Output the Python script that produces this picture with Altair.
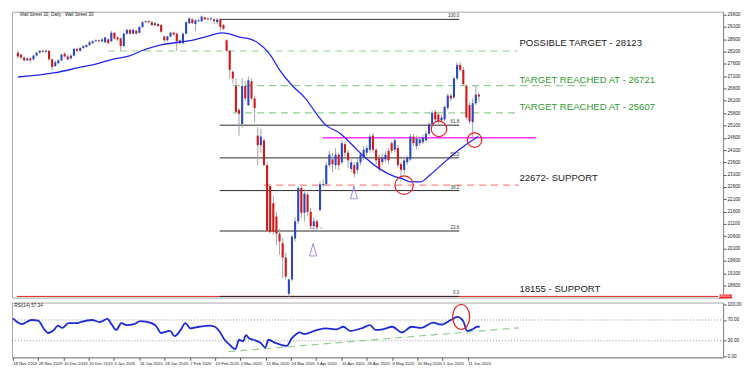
import altair as alt
import pandas as pd

FONT = "Liberation Sans"
BLUE = "#2a46c2"
RED = "#d01818"

# ---------------- candle data (bar index 0 = 18 Nov 2019) ----------------
OPEN = [28054, 27977, 27861, 27745, 27822, 27784, 27938, 28054, 28132, 28093,
        28132, 27784, 27513, 27629, 27745, 28016, 27900, 27822, 27938, 28209,
        28132, 28248, 28287, 28364, 28441, 28519, 28558, 28519, 28480, 28596,
        28519, 28867, 28674, 28635, 28325, 28828, 28983, 28828, 28945, 28867,
        29099, 29293, 29332, 29293, 29177, 29216, 29177, 28712, 28558, 28712,
        28867, 28828, 28441, 28441, 28828, 29254, 29409, 29216, 29332, 29332,
        29486, 29448, 29409, 29409, 29293, 29409, 29177, 28558, 28132, 27280,
        26700, 25732, 25152, 26700, 25926, 26893, 26197, 24688, 24301, 24494,
        23488, 22636, 21940, 21398, 20701, 20314, 19734, 18263, 18844, 20508,
        21205, 22559, 21553, 22288, 21592, 21011, 21205, 21669, 22675, 22714,
        23488, 23720, 23488, 23914, 23604, 24339, 23991, 23333, 23488, 23294,
        23604, 23797, 23991, 24107, 24688, 24107, 23797, 23604, 23720, 24068,
        24378, 24107, 24184, 23527, 23294, 23604, 23720, 24649, 24262, 24378,
        24417, 24494, 24765, 25152, 25655, 25539, 25307, 25345, 25810, 26313,
        26236, 27010, 27551, 27358, 26700, 25926, 25229, 26003, 26352]
HIGH = [28132, 28016, 27900, 27861, 27861, 27977, 28093, 28171, 28171, 28171,
        28171, 27822, 27745, 27784, 28016, 28054, 27977, 27977, 28248, 28248,
        28287, 28364, 28403, 28519, 28558, 28596, 28596, 28635, 28712, 28635,
        28945, 28906, 28712, 28674, 28867, 29022, 29022, 29022, 28983, 29138,
        29332, 29370, 29370, 29332, 29293, 29254, 29216, 28751, 28751, 28906,
        28906, 28867, 28596, 28867, 29332, 29486, 29448, 29409, 29409, 29564,
        29525, 29486, 29486, 29448, 29448, 29448, 29216, 28596, 28171, 27319,
        27010, 25810, 27010, 26893, 27087, 27010, 26313, 25036, 24958, 24571,
        23604, 22714, 22249, 21592, 20895, 20508, 19927, 18883, 20663, 21359,
        22636, 22636, 22520, 22366, 21746, 21359, 21282, 22830, 22907, 23604,
        24068, 23991, 24184, 23991, 24494, 24455, 24107, 23720, 23604, 23759,
        23991, 24262, 24301, 24765, 24804, 24184, 23914, 23991, 24068, 24184,
        24455, 24610, 24301, 23604, 23797, 23875, 24765, 24765, 24688, 24649,
        24726, 24881, 25229, 25694, 25732, 25616, 25539, 25926, 26390, 26390,
        27087, 27667, 27667, 27474, 26777, 26042, 26197, 26700, 26429]
LOW = [27822, 27784, 27706, 27706, 27667, 27745, 27900, 28016, 28054, 28054,
       27745, 27358, 27474, 27590, 27706, 27861, 27745, 27784, 27900, 28093,
       28093, 28209, 28248, 28325, 28403, 28480, 28480, 28480, 28441, 28403,
       28480, 28596, 28519, 28132, 28287, 28790, 28790, 28790, 28790, 28828,
       29061, 29254, 29254, 29138, 29138, 29099, 28867, 28480, 28519, 28674,
       28751, 28132, 28403, 28403, 28790, 29216, 29216, 28945, 29293, 29293,
       29370, 29370, 29370, 29216, 29216, 28945, 28983, 28093, 27010, 26816,
       25616, 24688, 24997, 26081, 25887, 26119, 25229, 23488, 23991, 23449,
       20779, 20701, 20663, 20237, 19850, 18883, 18844, 18155, 18766, 20392,
       21088, 21359, 21205, 21437, 20895, 20818, 20818, 21592, 22598, 22636,
       23410, 23217, 23333, 23294, 23527, 23720, 23372, 23217, 22985, 23140,
       23488, 23681, 23875, 23991, 23991, 23527, 23217, 23488, 23604, 23527,
       23991, 23991, 23372, 22830, 23140, 23488, 23643, 24262, 24146, 24262,
       24339, 24417, 24688, 25075, 25229, 25152, 25229, 25268, 25732, 26081,
       26158, 26932, 27280, 26700, 25345, 25152, 24610, 25926, 26081]
CLOSE = [27900, 27861, 27745, 27822, 27745, 27938, 28054, 28132, 28093, 28132,
         27784, 27474, 27667, 27745, 27977, 27900, 27784, 27938, 28209, 28132,
         28248, 28325, 28364, 28480, 28519, 28558, 28519, 28596, 28674, 28441,
         28867, 28635, 28596, 28325, 28828, 28983, 28828, 28983, 28828, 29099,
         29293, 29332, 29293, 29177, 29254, 29138, 28906, 28558, 28712, 28867,
         28790, 28519, 28558, 28828, 29293, 29448, 29254, 29370, 29370, 29525,
         29409, 29409, 29448, 29332, 29409, 29099, 29022, 28132, 27358, 27010,
         25655, 25578, 26700, 26197, 26932, 26197, 25810, 24301, 24649, 23488,
         20818, 20779, 20779, 20701, 20392, 19734, 18960, 18844, 20585, 21205,
         22559, 21553, 22327, 21592, 21011, 21205, 20972, 22714, 22714, 23488,
         23914, 23527, 23914, 23488, 24378, 23991, 23681, 23604, 23140, 23604,
         23914, 24107, 24184, 24649, 24107, 23681, 23333, 23797, 23914, 23681,
         24068, 24494, 23488, 23294, 23681, 23797, 24649, 24378, 24571, 24533,
         24610, 24765, 25152, 25616, 25345, 25268, 25423, 25849, 26313, 26197,
         27010, 27551, 27358, 26777, 25423, 25268, 26003, 26352, 26274]

# moving average
MA_I = [0, 12, 20.4, 25.3, 30.6, 35.8, 40.7, 46, 51.2, 56.2, 61.4, 65.4, 67.6,
        71.6, 73.8, 76.9, 80.9, 84, 88.2, 92.3, 95.4, 98.5, 103.6, 107.7, 110.8,
        116, 121, 123.1, 126.2, 129.3, 132.4, 137.6, 141.7, 146.8, 147.8]
MA_V = [27068, 27242, 27474, 27602, 27795, 27927, 28182, 28376, 28469, 28569,
        28739, 28856, 28829, 28674, 28635, 28469, 27989, 27358, 26700, 26197,
        25655, 25152, 24765, 24262, 23875, 23345, 23024, 22946, 22811, 22811,
        23101, 23681, 24119, 24571, 24649]

# RSI(14)
RSI_I = [0, 2.8, 5.9, 8, 9.9, 11.1, 13, 14.2, 15.7, 17.6, 20.4, 21.9, 25, 27.5,
         29.9, 31.2, 32.7, 34.3, 36.1, 38.3, 40.4, 42, 45.1, 46.9, 49.7, 51.2,
         53.1, 54.6, 56.2, 59, 62.3, 63.9, 65.4, 67, 68.5, 70.4, 71.6, 72.8, 73.8,
         74.7, 76.2, 78.4, 79.9, 80.9, 83, 86.7, 88.3, 89.8, 90.7, 92.3, 96.3,
         99.1, 102.5, 104.6, 106.8, 110.8, 113, 114.8, 117, 120.1, 123.1, 126.2,
         129.3, 133, 135.5, 138.6, 140.7, 142.6, 143.8, 145.4, 146.9, 147.8]
RSI_V = [73, 62, 70, 69, 52, 45, 51, 59, 55, 64, 64, 67, 70, 66, 72, 62, 51, 64,
         60, 62, 68, 67, 60, 45, 49, 39, 51, 64, 54, 57, 59, 57, 48, 32, 23, 14,
         32, 29, 41, 35, 32, 26, 17, 32, 26, 20, 35, 43, 46, 43, 51, 54, 52, 57,
         49, 55, 60, 51, 52, 57, 46, 57, 55, 65, 61, 70, 76, 67, 49, 52, 57, 57.34]

# axis labels
PRICE_TICKS = [18600, 19100, 19600, 20100, 20600, 21100, 21600, 22100, 22600,
               23100, 23600, 24100, 24600, 25100, 25600, 26100, 26600, 27100,
               27600, 28100, 28600, 29100, 29600]
RSI_TICKS = [0, 30, 70, 100]
DATE_IDX = [0, 8, 16, 24, 32, 40, 48, 56, 64, 72, 80, 88, 96, 104, 112, 120, 128, 136, 144]
DATE_LABELS = ["18 Nov 2019", "28 Nov 2019", "10 Dec 2019", "20 Dec 2019", "6 Jan 2020",
               "16 Jan 2020", "28 Jan 2020", "7 Feb 2020", "19 Feb 2020", "2 Mar 2020",
               "12 Mar 2020", "24 Mar 2020", "3 Apr 2020", "16 Apr 2020", "28 Apr 2020",
               "8 May 2020", "20 May 2020", "1 Jun 2020", "11 Jun 2020"]

# fibonacci retracement
FIB_LEVELS = [29409, 25110, 23782, 22454, 20811, 18155]
FIB_NAMES = ["100.0", "61.8", "50.0", "38.2", "23.6", "0.0"]
FIB_X1, FIB_X2 = 64.8, 141.7

# drawn levels
GREEN_LEVELS = [28123, 26721, 25607]
GREEN_X1 = [29, 69.1, 69.1]
GREEN_X2 = [160.2, 182.4, 160.8]
PINK_LEVEL, PINK_X1, PINK_X2 = 24600, 97.8, 166.4
REDDASH_LEVEL, REDDASH_X1, REDDASH_X2 = 22672, 79, 160.8
SUPPORT_LEVEL = 18155
PURPLE_LEVEL, PURPLE_X1, PURPLE_X2 = 20934, 93.8, 97.8

ANN_TEXT = ["POSSIBLE TARGET  - 28123", "TARGET REACHED AT - 26721",
            "TARGET REACHED AT - 25607", "22672- SUPPORT", "18155 - SUPPORT"]
ANN_Y = [28314, 26828, 25732, 22830, 18353]
ANN_COL = ["#222222", "#2f9a2f", "#2f9a2f", "#222222", "#222222"]
ANN_X = 161

CIRC_I = [135.2, 124.0, 146.6]
CIRC_P = [24958, 22675, 24506]
CIRC_S = [240, 340, 212]
TRI_I = [94.8, 107.9]
TRI_P = [20055, 22377]

RSI_TREND_I = [68.2, 160.2]
RSI_TREND_V = [9, 55]
RSI_ELL_I, RSI_ELL_V = 141.9, 76

# ---------------- chart ----------------
W = 714
XD = [-0.3, 224.8]
xs = alt.Scale(domain=XD, nice=False, zero=False)
ys = alt.Scale(domain=[18109, 29719], nice=False, zero=False)
rs = alt.Scale(domain=[-1.8, 103.6], nice=False, zero=False)

YAX = alt.Axis(orient="right", values=PRICE_TICKS, format="d", labelFontSize=4.6,
               labelFont=FONT, labelColor="#222", tickSize=3, tickColor="#555",
               labelPadding=1, domainColor="#888", grid=False, title=None)
X = alt.X("i:Q", scale=xs, axis=None)


def Y(field):
    return alt.Y(field, scale=ys, axis=YAX)


n = len(OPEN)
candles = pd.DataFrame({"i": list(range(n)), "o": OPEN, "h": HIGH, "l": LOW, "c": CLOSE})
candles["dir"] = ["up" if c >= o else "down" for o, c in zip(OPEN, CLOSE)]

wick = alt.Chart(candles).mark_rule(color="#a3a3a3", strokeWidth=1).encode(
    x=X, y=Y("l:Q"), y2="h:Q")
body = alt.Chart(candles).mark_bar(size=2.1).encode(
    x=X, y=Y("o:Q"), y2="c:Q",
    color=alt.Color("dir:N", scale=alt.Scale(domain=["up", "down"], range=[BLUE, RED]), legend=None))

ma = alt.Chart(pd.DataFrame({"i": MA_I, "v": MA_V})).mark_line(
    color="#2424ee", strokeWidth=1.3, interpolate="monotone").encode(x=X, y=Y("v:Q"))


def hline(levels, x1, x2, **style):
    df = pd.DataFrame({"p": levels, "a": x1, "b": x2})
    return alt.Chart(df).mark_rule(**style).encode(
        x=alt.X("a:Q", scale=xs, axis=None), x2="b:Q", y=Y("p:Q"))


support = hline([SUPPORT_LEVEL], [XD[0]], [XD[1]], color="#e02020", strokeWidth=1)
fib = hline(FIB_LEVELS, [FIB_X1] * len(FIB_LEVELS), [FIB_X2] * len(FIB_LEVELS),
            color="#2a2a2a", strokeWidth=1)
green = hline(GREEN_LEVELS, GREEN_X1, GREEN_X2, color="#8fd08f", strokeWidth=1.2,
              strokeDash=[7, 5])
pink = hline([PINK_LEVEL], [PINK_X1], [PINK_X2], color="#ff33ff", strokeWidth=1.5)
reddash = hline([REDDASH_LEVEL], [REDDASH_X1], [REDDASH_X2], color="#ff8585",
                strokeWidth=1.2, strokeDash=[7, 5])
purple = hline([PURPLE_LEVEL], [PURPLE_X1], [PURPLE_X2], color="#b49ae0",
               strokeWidth=1, strokeDash=[3, 2])

fib_lbl = alt.Chart(pd.DataFrame({"p": FIB_LEVELS, "t": FIB_NAMES, "i": [FIB_X2] * 6})).mark_text(
    align="right", baseline="bottom", dy=-1, fontSize=4.5, font=FONT, color="#333").encode(
    x=X, y=Y("p:Q"), text="t:N")

ann = alt.Chart(pd.DataFrame({"t": ANN_TEXT, "p": ANN_Y, "c": ANN_COL, "i": [ANN_X] * 5})).mark_text(
    align="left", baseline="alphabetic", fontSize=9.6, font=FONT).encode(
    x=X, y=Y("p:Q"), text="t:N", color=alt.Color("c:N", scale=None))

circ = alt.Chart(pd.DataFrame({"i": CIRC_I, "p": CIRC_P, "s": CIRC_S})).mark_point(
    shape="circle", filled=False, color="#e52222", strokeWidth=1.2, opacity=1).encode(
    x=X, y=Y("p:Q"), size=alt.Size("s:Q", scale=None))

tri = alt.Chart(pd.DataFrame({"i": TRI_I, "p": TRI_P})).mark_point(
    shape="M0,-1L0.55,1L-0.55,1Z", filled=False, size=160, color="#a58ad8",
    strokeWidth=1, opacity=1).encode(x=X, y=Y("p:Q"))

tag_box = alt.Chart(pd.DataFrame({"a": [225.2], "b": [229.3], "p1": [18070], "p2": [18240]})).mark_rect(
    color="#ee2222").encode(x=alt.X("a:Q", scale=xs, axis=None), x2="b:Q", y=Y("p1:Q"), y2="p2:Q")
tag_txt = alt.Chart(pd.DataFrame({"i": [227.25], "p": [18155], "t": ["18155.0"]})).mark_text(
    fontSize=4, font=FONT, color="white", align="center", baseline="middle").encode(
    x=X, y=Y("p:Q"), text="t:N")

title = alt.Chart(pd.DataFrame({"i": [0.6], "p": [29603], "t": ["Wall Street 30, Daily : Wall Street 30"]})).mark_text(
    align="left", baseline="middle", fontSize=4.6, font=FONT, color="#222").encode(
    x=X, y=Y("p:Q"), text="t:N")

main = alt.layer(support, fib, green, pink, reddash, purple, wick, body, ma,
                 fib_lbl, ann, circ, tri, tag_box, tag_txt, title).properties(width=W, height=287)

# ---------------- RSI panel ----------------
cond = " : ".join(f"datum.value == {v} ? '{s}'" for v, s in zip(DATE_IDX, DATE_LABELS)) + " : ''"
XAX = alt.Axis(values=DATE_IDX, labelExpr=cond, labelAlign="left", labelFontSize=4.2,
               labelFont=FONT, labelColor="#222", tickSize=3, tickColor="#555",
               labelPadding=1, domainColor="#888", grid=False, title=None,
               labelOverlap=False, labelFlush=False)
RAX = alt.Axis(orient="right", values=RSI_TICKS, format=".2f", labelFontSize=4.6,
               labelFont=FONT, labelColor="#222", tickSize=3, tickColor="#555",
               labelPadding=1, domainColor="#888", grid=False, title=None)
XR = alt.X("i:Q", scale=xs, axis=XAX)


def RY(field):
    return alt.Y(field, scale=rs, axis=RAX)


levels = alt.Chart(pd.DataFrame({"v": [70, 30], "a": [XD[0]] * 2, "b": [XD[1]] * 2})).mark_rule(
    color="#777", strokeWidth=0.8, strokeDash=[1, 2]).encode(
    x=alt.X("a:Q", scale=xs, axis=XAX), x2="b:Q", y=RY("v:Q"))
trend = alt.Chart(pd.DataFrame({"i": RSI_TREND_I, "v": RSI_TREND_V})).mark_line(
    color="#8fd08f", strokeWidth=1.2, strokeDash=[7, 5]).encode(x=XR, y=RY("v:Q"))
rsi_line = alt.Chart(pd.DataFrame({"i": RSI_I, "v": RSI_V})).mark_line(
    color="#1c2bd4", strokeWidth=1.8, interpolate="monotone").encode(x=XR, y=RY("v:Q"))
ell = alt.Chart(pd.DataFrame({"i": [RSI_ELL_I], "v": [RSI_ELL_V]})).mark_point(
    shape="M-0.69,0A0.69,1 0 1,1 0.69,0A0.69,1 0 1,1 -0.69,0Z", filled=False, size=620,
    color="#e52222", strokeWidth=1.2, opacity=1).encode(x=XR, y=RY("v:Q"))
rsi_title = alt.Chart(pd.DataFrame({"i": [0.4], "v": [96], "t": ["RSI(14) 57.34"]})).mark_text(
    align="left", baseline="middle", fontSize=4.6, font=FONT, color="#222").encode(
    x=XR, y=RY("v:Q"), text="t:N")

rsi = alt.layer(levels, trend, rsi_line, ell, rsi_title).properties(width=W, height=55)

chart = alt.vconcat(main, rsi, spacing=1).properties(
    padding={"left": 0, "top": 2, "right": 0, "bottom": 0}, background="white"
).configure_view(stroke="#a8a8a8", strokeWidth=1)

chart.save("out.html", embed_options={"renderer": "svg", "actions": False})
